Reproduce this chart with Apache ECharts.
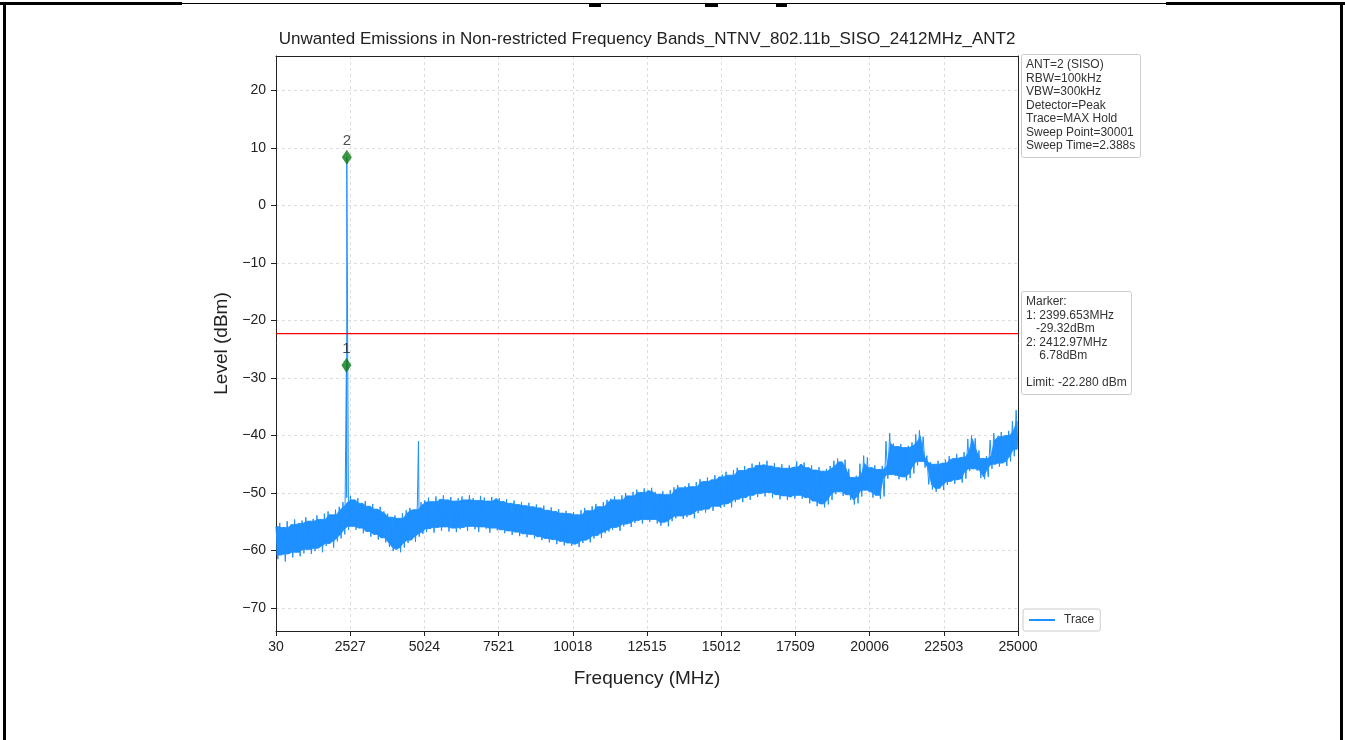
<!DOCTYPE html>
<html>
<head>
<meta charset="utf-8">
<title>Unwanted Emissions</title>
<script src="https://cdn.jsdelivr.net/npm/echarts@6/dist/echarts.min.js"></script>
<style>
html, body { margin: 0; padding: 0; background: #fff; }
#main { width: 1345px; height: 740px; }
</style>
</head>
<body>
<div id="main"></div>
<script>
// sweep range (MHz)
var sweepStart = 30;
var sweepStop = 25000;

// tick labels
var xTicks = [30, 2527, 5024, 7521, 10018, 12515, 15012, 17509, 20006, 22503, 25000];
var yTicks = [-70, -60, -50, -40, -30, -20, -10, 0, 10, 20];

// max hold trace: upper edge and lower edge of the noise band (dBm)
var peakLevel = [
    -55.8, -55.2, -56.0, -54.9, -55.5, -54.6, -55.3, -54.8, -54.2, -54.9,
    -54.5, -53.9, -54.6, -53.6, -53.2, -53.8, -52.9, -52.4, -51.6, -50.8,
    -50.5, -51.2, -50.9, -51.8, -51.4, -52.3, -51.9, -52.8, -52.4, -53.2,
    -53.6, -54.2, -53.9, -54.4, -53.5, -53.0, -52.6, -52.9, -52.1, -51.6,
    -51.3, -50.8, -51.5, -50.6, -51.1, -50.4, -51.2, -50.7, -51.4, -50.9,
    -50.6, -51.2, -50.4, -50.9, -51.3, -50.5, -50.8, -51.4, -50.7, -51.0,
    -50.9, -51.5, -51.1, -51.8, -51.3, -52.0, -51.6, -52.2, -51.7, -52.4,
    -52.0, -52.6, -52.2, -53.0, -52.5, -53.2, -52.8, -53.5, -53.1, -53.6,
    -53.3, -53.8, -53.0, -52.6, -53.1, -52.3, -51.9, -52.4, -51.6, -51.2,
    -51.0, -50.6, -51.2, -50.4, -50.0, -50.5, -49.8, -49.4, -49.9, -49.2,
    -49.6, -49.1, -49.8, -50.2, -49.7, -50.3, -49.5, -49.0, -48.6, -49.1,
    -48.8, -48.3, -48.9, -48.1, -47.6, -48.0, -47.3, -47.7, -46.9, -47.2,
    -46.8, -46.3, -46.9, -46.0, -45.6, -46.1, -45.3, -45.7, -44.9, -45.2,
    -44.6, -45.1, -44.4, -45.3, -44.8, -45.6, -45.0, -45.7, -45.2, -45.5,
    -44.5, -45.0, -44.7, -45.6, -45.2, -46.0, -45.5, -46.2, -45.8, -45.3,
    -44.4, -44.0, -44.6, -44.2, -45.8, -47.3, -47.0, -44.9, -43.5, -43.8,
    -45.6, -45.2, -45.9, -45.3, -41.0, -39.6, -41.4, -41.9, -41.5, -42.1,
    -41.8, -41.2, -39.8, -39.1, -40.2, -43.5, -44.6, -45.0, -44.4, -44.8,
    -44.2, -43.6, -44.0, -43.2, -43.8, -42.9, -40.6, -40.0, -40.5, -42.6,
    -44.0, -43.6, -40.8, -39.6, -40.2, -39.4, -40.0, -39.2, -37.5, -35.6
];
var floorLevel = [
    -61.5, -60.8, -61.9, -60.6, -61.2, -60.3, -61.0, -60.5, -59.8, -60.6,
    -60.1, -59.6, -60.3, -59.2, -58.8, -59.5, -58.4, -57.9, -57.2, -56.4,
    -55.8, -56.4, -56.1, -57.0, -56.7, -57.6, -57.2, -58.1, -57.8, -58.6,
    -59.4, -60.1, -59.8, -60.3, -59.5, -58.7, -58.2, -58.5, -57.6, -57.1,
    -56.8, -56.2, -56.9, -56.0, -56.6, -55.9, -56.7, -56.1, -56.8, -56.3,
    -56.0, -56.6, -55.8, -56.3, -56.8, -55.9, -56.2, -56.9, -56.1, -56.5,
    -56.4, -57.0, -56.6, -57.3, -56.8, -57.5, -57.1, -57.7, -57.2, -57.9,
    -57.6, -58.2, -57.9, -58.6, -58.1, -58.9, -58.4, -59.1, -58.7, -59.2,
    -58.9, -59.4, -58.7, -58.2, -58.6, -57.9, -57.4, -57.8, -57.0, -56.7,
    -56.4, -56.0, -56.6, -55.8, -55.4, -55.9, -55.2, -54.8, -55.3, -54.6,
    -55.0, -54.6, -55.3, -55.7, -55.1, -55.8, -54.9, -54.4, -54.0, -54.5,
    -54.2, -53.8, -54.4, -53.5, -53.0, -53.4, -52.8, -53.1, -52.3, -52.6,
    -52.4, -51.9, -52.5, -51.6, -51.1, -51.6, -50.8, -51.2, -50.4, -50.7,
    -50.1, -50.6, -49.9, -50.8, -50.3, -51.1, -50.5, -51.2, -50.7, -51.0,
    -50.4, -51.0, -50.8, -51.8, -51.4, -52.3, -51.9, -52.5, -52.0, -51.2,
    -50.2, -49.8, -50.5, -50.3, -51.2, -52.0, -51.8, -50.6, -49.5, -49.9,
    -50.8, -50.4, -51.0, -50.6, -47.5, -46.8, -47.0, -47.6, -47.2, -47.8,
    -47.4, -46.6, -45.2, -44.5, -45.6, -48.5, -49.4, -49.8, -49.2, -49.5,
    -48.6, -48.0, -48.4, -47.7, -48.2, -47.5, -46.2, -45.8, -46.1, -47.4,
    -47.6, -47.2, -45.8, -45.0, -45.4, -44.8, -45.3, -44.5, -43.6, -42.4
];

// narrow spikes in the trace (carrier and 2nd harmonic)
var spikeFreq = [2399.653, 2412.97, 4824];
var spikeLevel = [-27.8, 8.4, -41.0];

// markers as drawn on the plot
var markerFreq = [2399.653, 2412.97];
var markerLevel = [-27.8, 8.4];
var markerName = ['1', '2'];

var limitLevel = -22.28;

var titleText = 'Unwanted Emissions in Non-restricted Frequency Bands_NTNV_802.11b_SISO_2412MHz_ANT2';
var settingsLines = ['ANT=2 (SISO)', 'RBW=100kHz', 'VBW=300kHz', 'Detector=Peak', 'Trace=MAX Hold', 'Sweep Point=30001', 'Sweep Time=2.388s'];
var markerLines = ['Marker:', '1: 2399.653MHz', '   -29.32dBm', '2: 2412.97MHz', '    6.78dBm', '', 'Limit: -22.280 dBm'];

var traceStep = (sweepStop - sweepStart) / (peakLevel.length + floorLevel.length - 1);

// 峰值和谷值交替排列，组成扫描曲线
function buildTrace() {
    var pts = [];
    for (var k = 0; k < peakLevel.length; k++) {
        pts.push([sweepStart + 2 * k * traceStep, peakLevel[k]]);
        pts.push([sweepStart + (2 * k + 1) * traceStep, floorLevel[k]]);
    }
    for (var i = 0; i < spikeFreq.length; i++) {
        pts.push([spikeFreq[i], spikeLevel[i]]);
    }
    pts.sort(function(a, b) { return a[0] - b[0]; });
    return pts;
}

// 噪声带的实心部分：取相邻三个峰值的最小值和谷值的最大值，让锯齿边露在外面
// 每一项是一小段：[f0, top0, bottom0, f1, top1, bottom1]
function buildBand() {
    var n = peakLevel.length;
    var edge = [];
    for (var k = 0; k < n; k++) {
        var a = Math.max(0, k - 1), b = Math.min(n - 1, k + 1);
        edge.push([
            sweepStart + (2 * k + 0.5) * traceStep,
            Math.min(peakLevel[a], peakLevel[k], peakLevel[b]),
            Math.max(floorLevel[a], floorLevel[k], floorLevel[b])
        ]);
    }
    var segs = [];
    for (var j = 0; j < n - 1; j++) {
        segs.push(edge[j].concat(edge[j + 1]));
    }
    return segs;
}

function renderBand(params, api) {
    var p1 = api.coord([api.value(0), api.value(1)]);
    var p2 = api.coord([api.value(3), api.value(4)]);
    var p3 = api.coord([api.value(3), api.value(5)]);
    var p4 = api.coord([api.value(0), api.value(2)]);
    return {
        type: 'polygon',
        shape: { points: [p1, p2, p3, p4] },
        style: { fill: traceColor, stroke: traceColor, lineWidth: 0.8 },
        silent: true
    };
}

var font = 'Liberation Sans, Arial, Helvetica, sans-serif';
var traceColor = '#1e90ff';
var gridLine = { show: true, lineStyle: { color: '#dddddd', width: 1, type: [3, 3] } };
var frameAxis = {
    axisLine: { show: true, onZero: false, lineStyle: { color: '#222', width: 1 } },
    axisTick: { show: false }, axisLabel: { show: false }, splitLine: { show: false }
};

var option = {
    animation: false,
    backgroundColor: '#fff',
    textStyle: { fontFamily: font },
    graphic: [
        // scanned page frame
        { type: 'rect', shape: { x: 0, y: 2, width: 182, height: 3 }, style: { fill: '#000' } },
        { type: 'rect', shape: { x: 182, y: 3, width: 984, height: 1 }, style: { fill: '#000' } },
        { type: 'rect', shape: { x: 1166, y: 2, width: 179, height: 3 }, style: { fill: '#000' } },
        { type: 'rect', shape: { x: 3, y: 2, width: 3, height: 738 }, style: { fill: '#000' } },
        { type: 'rect', shape: { x: 1340, y: 2, width: 3, height: 738 }, style: { fill: '#000' } },
        { type: 'rect', shape: { x: 589, y: 3, width: 12, height: 4 }, style: { fill: '#000' } },
        { type: 'rect', shape: { x: 705, y: 3, width: 13, height: 4 }, style: { fill: '#000' } },
        { type: 'rect', shape: { x: 776, y: 3, width: 11, height: 4 }, style: { fill: '#000' } },
        {
            type: 'text', x: 647, y: 31,
            style: { text: titleText, textAlign: 'center', fill: '#222', font: '17px ' + font }
        }
    ],
    title: [
        {
            text: settingsLines.join('\n'),
            left: 1021, top: 54,
            padding: [4, 5, 5, 5],
            borderColor: '#cccccc', borderWidth: 1, borderRadius: 2,
            backgroundColor: '#fff',
            textStyle: { fontSize: 12, fontWeight: 'normal', color: '#333', lineHeight: 13.5, fontFamily: font }
        },
        {
            text: markerLines.join('\n'),
            left: 1021, top: 291,
            padding: [4, 5, 5, 5],
            borderColor: '#cccccc', borderWidth: 1, borderRadius: 2,
            backgroundColor: '#fff',
            textStyle: { fontSize: 12, fontWeight: 'normal', color: '#333', lineHeight: 13.5, fontFamily: font }
        }
    ],
    legend: {
        data: [{ name: 'Trace', icon: 'rect' }],
        left: 1023, top: 609,
        padding: [5, 6, 5, 6],
        itemWidth: 26, itemHeight: 2,
        borderColor: '#cccccc', borderWidth: 1, borderRadius: 2,
        backgroundColor: '#fff',
        textStyle: { fontSize: 12, color: '#333', padding: [0, 0, 0, 4] }
    },
    grid: {
        left: 276, right: 327, top: 56, bottom: 109
    },
    xAxis: [
        {
            type: 'value',
            min: sweepStart, max: sweepStop,
            name: 'Frequency (MHz)',
            nameLocation: 'middle', nameGap: 38,
            nameTextStyle: { fontSize: 19, color: '#222' },
            axisLine: { onZero: false, lineStyle: { color: '#222' } },
            axisTick: { customValues: xTicks, length: 5, lineStyle: { color: '#222' } },
            axisLabel: {
                customValues: xTicks, fontSize: 14, color: '#222', margin: 9,
                formatter: function(v) { return String(v); }
            },
            splitLine: gridLine,
            z: 0
        },
        Object.assign({ type: 'value', position: 'top', min: sweepStart, max: sweepStop, z: 3 }, frameAxis)
    ],
    yAxis: [
        {
            type: 'value',
            min: -74, max: 26,
            name: 'Level (dBm)',
            nameLocation: 'middle', nameGap: 45,
            nameTextStyle: { fontSize: 19, color: '#222' },
            axisLine: { show: true, onZero: false, lineStyle: { color: '#222' } },
            axisTick: { show: true, customValues: yTicks, length: 5, lineStyle: { color: '#222' } },
            axisLabel: {
                customValues: yTicks, fontSize: 14, color: '#222', margin: 10,
                formatter: function(v) { return String(v).replace('-', '\u2212'); }
            },
            splitLine: gridLine,
            z: 0
        },
        Object.assign({ type: 'value', position: 'right', min: -74, max: 26, z: 3 }, frameAxis)
    ],
    series: [
        {
            name: 'band',
            type: 'custom',
            data: buildBand(),
            renderItem: renderBand,
            encode: { x: [0, 3], y: [1, 2, 4, 5] },
            clip: true,
            silent: true,
            z: 1
        },
        {
            name: 'Trace',
            type: 'line',
            data: buildTrace(),
            symbol: 'none',
            color: traceColor,
            lineStyle: { color: traceColor, width: 1 },
            emphasis: { disabled: true },
            z: 2
        },
        {
            name: 'Limit',
            type: 'line',
            data: [[sweepStart, limitLevel], [sweepStop, limitLevel]],
            symbol: 'none',
            color: '#ff0000',
            lineStyle: { color: '#ff0000', width: 1.3 },
            emphasis: { disabled: true },
            z: 3
        },
        {
            name: 'Marker',
            type: 'scatter',
            data: markerFreq.map(function(f, i) {
                return { value: [f, markerLevel[i]], name: markerName[i] };
            }),
            symbol: 'diamond',
            symbolSize: [10, 15],
            itemStyle: { color: '#0b7a12' },
            label: { show: true, position: 'top', distance: 1, formatter: '{b}', fontSize: 15, color: '#222' },
            emphasis: { disabled: true },
            z: 5
        }
    ]
};

var myChart = echarts.init(document.getElementById('main'), null, { renderer: 'canvas' });
myChart.setOption(option);
</script>
</body>
</html>
